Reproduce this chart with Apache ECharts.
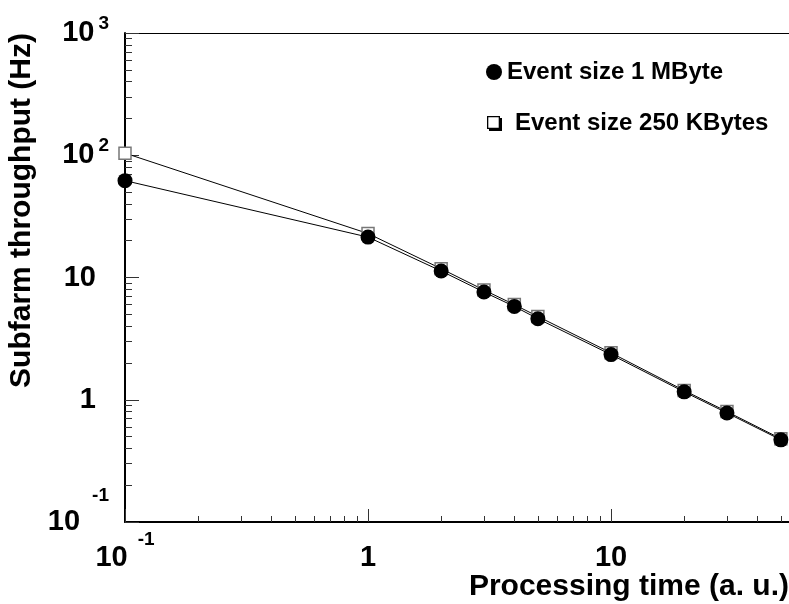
<!DOCTYPE html>
<html><head><meta charset="utf-8">
<script src="https://cdn.jsdelivr.net/npm/echarts@6/dist/echarts.min.js"></script>
<style>html,body{margin:0;padding:0;background:#fff}#c{width:789px;height:604px}</style>
</head><body><div id="c"></div>
<script>
// ---- data ----
const processingTime = [0.1, 1, 2, 3, 4, 5, 10, 20, 30, 50];
const throughput1MB = [62, 21.4, 11.3, 7.6, 5.8, 4.6, 2.34, 1.16, 0.78, 0.47];
const throughput250KB = [104, 22.9, 11.8, 7.9, 6.0, 4.8, 2.42, 1.19, 0.8, 0.48];
const seriesNames = ['Event size 1 MByte', 'Event size 250 KBytes'];
const xMajorTicks = [0.1, 1, 10];
const xTickBase = ['10', '1', '10'];
const xTickExp = ['-1', '', ''];
const xMinorTicks = [0.2, 0.3, 0.4, 0.5, 0.6, 0.7, 0.8, 0.9, 2, 3, 4, 5, 6, 7, 8, 9, 20, 30, 40, 50];
const yMajorTicks = [0.1, 1, 10, 100, 1000];
const yTickBase = ['10', '1', '10', '10', '10'];
const yTickExp = ['-1', '', '', '2', '3'];
const yMinorTicks = [0.2, 0.3, 0.4, 0.5, 0.6, 0.7, 0.8, 0.9, 2, 3, 4, 5, 6, 7, 8, 9,
  20, 30, 40, 50, 60, 70, 80, 90, 200, 300, 400, 500, 600, 700, 800, 900];
const xTitle = 'Processing time (a. u.)';
const yTitle = 'Subfarm throughput (Hz)';
const xRange = [0.1, 54];
const yRange = [0.1, 1000];

// ---- chart ----
const FONT = '"Liberation Sans", Arial, Helvetica, sans-serif';
function idx(arr, v) {
  let best = 0, bd = Infinity;
  arr.forEach((a, i) => { const d = Math.abs(Math.log10(a) - Math.log10(v)); if (d < bd) { bd = d; best = i; } });
  return best;
}
const tickColor = '#333';
const chart = echarts.init(document.getElementById('c'), null, { renderer: 'canvas' });
const xLabelRich = {
  b: { fontSize: 29, fontWeight: 'bold', fontFamily: FONT, color: '#000', lineHeight: 55 },
  s: { fontSize: 19, fontWeight: 'bold', fontFamily: FONT, color: '#000', lineHeight: 19, verticalAlign: 'top', padding: [0, 0, 0, 10] }
};
const yLabelRich = {
  b: { fontSize: 29, fontWeight: 'bold', fontFamily: FONT, color: '#000', lineHeight: 37 },
  bn: { fontSize: 29, fontWeight: 'bold', fontFamily: FONT, color: '#000', lineHeight: 71 },
  s: { fontSize: 19, fontWeight: 'bold', fontFamily: FONT, color: '#000', lineHeight: 19, verticalAlign: 'top', padding: [0, 0, 0, 4] },
  sn: { fontSize: 19, fontWeight: 'bold', fontFamily: FONT, color: '#000', lineHeight: 19, verticalAlign: 'top', padding: [0, 0, 0, 12] },
  p: { fontSize: 19, width: 13, lineHeight: 19 }
};
const option = {
  animation: false,
  backgroundColor: '#fff',
  grid: { left: 125, right: 0, top: 33, bottom: 82, containLabel: false, outerBoundsMode: 'none' },
  legend: {
    orient: 'vertical', left: 481, top: 55, itemGap: 27, itemWidth: 16, itemHeight: 16,
    selectedMode: false,
    textStyle: { fontSize: 24, fontWeight: 'bold', fontFamily: FONT, color: '#000', lineHeight: 24, rich: { p: { width: 8 } } },
    formatter: n => n === seriesNames[1] ? '{p| }' + n : n,
    data: [
      { name: seriesNames[0], icon: 'circle', itemStyle: { color: '#000', borderWidth: 0 } },
      { name: seriesNames[1], icon: 'path://M0,0h0.01M16,16h-0.01M1,1H14V14H1ZM2.3,2.3V12.7H12.7V2.3ZM14,3H16V16H3V14H14Z', itemStyle: { color: '#000', borderWidth: 0 } }
    ]
  },
  xAxis: [
    {
      type: 'log', logBase: 10, min: xRange[0], max: xRange[1], position: 'bottom',
      name: xTitle, nameLocation: 'end', nameGap: 0, nameMoveOverlap: false,
      nameTextStyle: { fontSize: 30, fontWeight: 'bold', fontFamily: FONT, color: '#000', align: 'right', verticalAlign: 'top', lineHeight: 30, padding: [50, 0, 0, 0] },
      axisLine: { show: true, lineStyle: { color: '#000', width: 2 } },
      axisTick: { show: true, inside: true, length: 13, customValues: xMajorTicks, lineStyle: { color: tickColor, width: 1 } },
      axisLabel: {
        show: true, margin: 8, customValues: xMajorTicks, rich: xLabelRich,
        formatter: v => { const i = idx(xMajorTicks, v); return '{b|' + xTickBase[i] + '}' + (xTickExp[i] ? '{s|' + xTickExp[i] + '}' : ''); }
      },
      splitLine: { show: false }, minorTick: { show: false }
    },
    {
      type: 'log', logBase: 10, min: xRange[0], max: xRange[1], position: 'bottom',
      axisLine: { show: false },
      axisTick: { show: true, inside: true, length: 6, customValues: xMinorTicks, lineStyle: { color: tickColor, width: 1 } },
      axisLabel: { show: false }, splitLine: { show: false }
    },
    {
      type: 'log', logBase: 10, min: xRange[0], max: xRange[1], position: 'top',
      axisLine: { show: true, lineStyle: { color: '#000', width: 1 } },
      axisTick: { show: false }, axisLabel: { show: false }, splitLine: { show: false }
    }
  ],
  yAxis: [
    {
      type: 'log', logBase: 10, min: yRange[0], max: yRange[1], position: 'left',
      name: yTitle, nameLocation: 'end', nameGap: 0, nameRotate: 90, nameMoveOverlap: false,
      nameTextStyle: { fontSize: 30, fontWeight: 'bold', fontFamily: FONT, color: '#000', align: 'right', verticalAlign: 'bottom', lineHeight: 30, padding: [0, 0, 88, 0] },
      axisLine: { show: true, lineStyle: { color: '#000', width: 2 } },
      axisTick: { show: true, inside: true, length: 14, customValues: yMajorTicks, lineStyle: { color: tickColor, width: 1 } },
      axisLabel: {
        show: true, margin: 16, customValues: yMajorTicks, rich: yLabelRich,
        formatter: v => {
          const i = idx(yMajorTicks, v);
          if (!yTickExp[i]) return '{b|' + yTickBase[i] + '}{p| }';
          const neg = yTickExp[i].charAt(0) === '-';
          return '{' + (neg ? 'bn' : 'b') + '|' + yTickBase[i] + '}{' + (neg ? 'sn' : 's') + '|' + yTickExp[i] + '}';
        }
      },
      splitLine: { show: false }, minorTick: { show: false }
    },
    {
      type: 'log', logBase: 10, min: yRange[0], max: yRange[1], position: 'left',
      axisLine: { show: false },
      axisTick: { show: true, inside: true, length: 7, customValues: yMinorTicks, lineStyle: { color: tickColor, width: 1 } },
      axisLabel: { show: false }, splitLine: { show: false }
    }
  ],
  series: [
    {
      name: seriesNames[1], type: 'line', xAxisIndex: 0, yAxisIndex: 0,
      data: processingTime.map((x, i) => [x, throughput250KB[i]]),
      symbol: 'rect', symbolSize: 12, showAllSymbol: true, clip: false,
      lineStyle: { color: '#000', width: 1 },
      itemStyle: { color: '#fff', borderColor: '#777', borderWidth: 1.5 },
      emphasis: { disabled: true }, z: 2
    },
    {
      name: seriesNames[0], type: 'line', xAxisIndex: 0, yAxisIndex: 0,
      data: processingTime.map((x, i) => [x, throughput1MB[i]]),
      symbol: 'circle', symbolSize: 15, showAllSymbol: true, clip: false,
      lineStyle: { color: '#000', width: 1 },
      itemStyle: { color: '#000', borderWidth: 0 },
      emphasis: { disabled: true }, z: 3
    }
  ]
};
chart.setOption(option);
</script>
</body></html>
